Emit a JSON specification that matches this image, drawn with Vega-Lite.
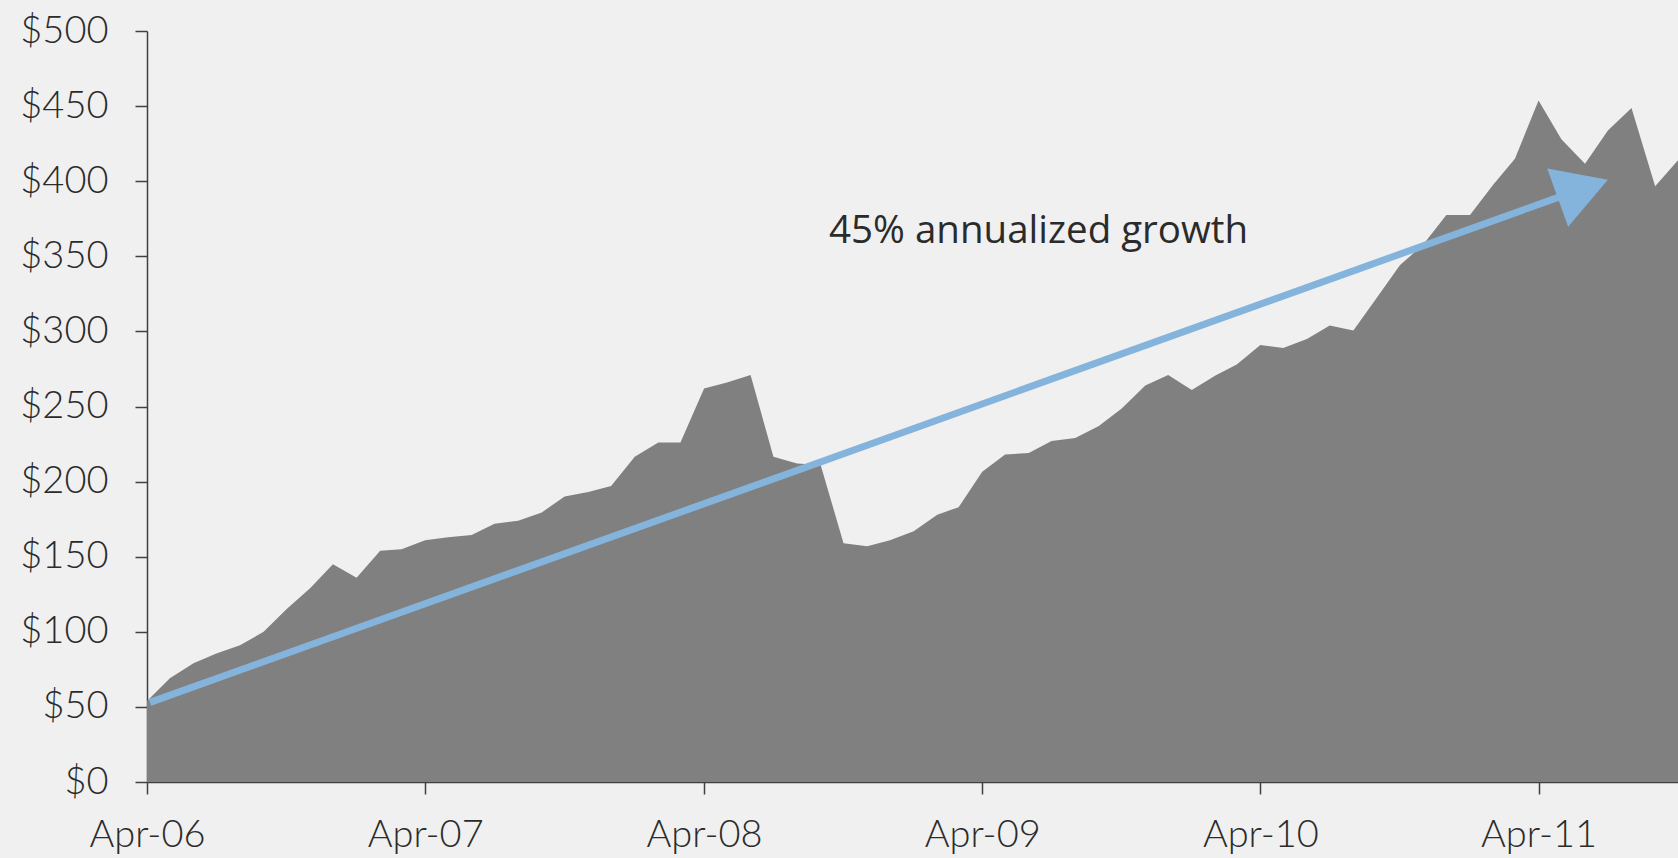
{
  "$schema": "https://vega.github.io/schema/vega-lite/v6.json",
  "width": 1531,
  "height": 751,
  "autosize": {"type": "none"},
  "padding": {"left": 147, "top": 31, "right": 0, "bottom": 76},
  "background": "#F0F0F0",
  "config": {
    "view": {"stroke": null},
    "axis": {
      "grid": false,
      "labelFont": "Lato",
      "labelFontSize": 38,
      "labelFontWeight": 300,
      "labelColor": "#2b2b2b",
      "domainColor": "#404040",
      "tickColor": "#404040",
      "domainWidth": 1.5,
      "tickWidth": 1.5,
      "title": null
    }
  },
  "datasets": {
    "series": [
      {"date": "2006-04-01", "value": 54},
      {"date": "2006-05-01", "value": 69},
      {"date": "2006-06-01", "value": 79},
      {"date": "2006-07-01", "value": 85.5},
      {"date": "2006-08-01", "value": 91},
      {"date": "2006-09-01", "value": 100},
      {"date": "2006-10-01", "value": 115},
      {"date": "2006-11-01", "value": 129},
      {"date": "2006-12-01", "value": 145},
      {"date": "2007-01-01", "value": 136},
      {"date": "2007-02-01", "value": 154},
      {"date": "2007-03-01", "value": 155},
      {"date": "2007-04-01", "value": 161},
      {"date": "2007-05-01", "value": 163},
      {"date": "2007-06-01", "value": 164.5},
      {"date": "2007-07-01", "value": 172},
      {"date": "2007-08-01", "value": 174},
      {"date": "2007-09-01", "value": 179.5},
      {"date": "2007-10-01", "value": 190},
      {"date": "2007-11-01", "value": 193},
      {"date": "2007-12-01", "value": 197},
      {"date": "2008-01-01", "value": 216.5},
      {"date": "2008-02-01", "value": 226},
      {"date": "2008-03-01", "value": 226},
      {"date": "2008-04-01", "value": 262},
      {"date": "2008-05-01", "value": 266},
      {"date": "2008-06-01", "value": 271},
      {"date": "2008-07-01", "value": 216.5},
      {"date": "2008-08-01", "value": 212},
      {"date": "2008-09-01", "value": 211},
      {"date": "2008-10-01", "value": 159},
      {"date": "2008-11-01", "value": 157},
      {"date": "2008-12-01", "value": 161},
      {"date": "2009-01-01", "value": 167},
      {"date": "2009-02-01", "value": 178},
      {"date": "2009-03-01", "value": 183},
      {"date": "2009-04-01", "value": 206.5},
      {"date": "2009-05-01", "value": 218},
      {"date": "2009-06-01", "value": 219},
      {"date": "2009-07-01", "value": 227},
      {"date": "2009-08-01", "value": 229},
      {"date": "2009-09-01", "value": 237},
      {"date": "2009-10-01", "value": 248.6},
      {"date": "2009-11-01", "value": 264},
      {"date": "2009-12-01", "value": 271},
      {"date": "2010-01-01", "value": 261},
      {"date": "2010-02-01", "value": 270.7},
      {"date": "2010-03-01", "value": 278},
      {"date": "2010-04-01", "value": 291},
      {"date": "2010-05-01", "value": 289},
      {"date": "2010-06-01", "value": 295},
      {"date": "2010-07-01", "value": 304},
      {"date": "2010-08-01", "value": 300.6},
      {"date": "2010-09-01", "value": 322.6},
      {"date": "2010-10-01", "value": 344},
      {"date": "2010-11-01", "value": 358},
      {"date": "2010-12-01", "value": 377.5},
      {"date": "2011-01-01", "value": 377.5},
      {"date": "2011-02-01", "value": 398},
      {"date": "2011-03-01", "value": 415},
      {"date": "2011-04-01", "value": 453.7},
      {"date": "2011-05-01", "value": 428},
      {"date": "2011-06-01", "value": 411.7},
      {"date": "2011-07-01", "value": 433.8},
      {"date": "2011-08-01", "value": 448.7},
      {"date": "2011-09-01", "value": 396.7},
      {"date": "2011-10-01", "value": 414}
    ],
    "arrow": [
      {"date": "2006-04-05", "value": 53},
      {"date": "2011-05-06", "value": 390.9}
    ],
    "head": [
      {"date": "2011-07-01", "value": 401}
    ],
    "label": [
      {"date": "2009-06-14", "value": 367, "text": "45% annualized growth"}
    ]
  },
  "encoding": {
    "x": {
      "field": "date",
      "type": "temporal",
      "scale": {
        "type": "utc",
        "domain": [
          {"year": 2006, "month": 4, "date": 1, "utc": true},
          {"year": 2011, "month": 10, "date": 1, "utc": true}
        ]
      },
      "axis": {
        "values": [
          {"year": 2006, "month": 4, "date": 1, "utc": true},
          {"year": 2007, "month": 4, "date": 1, "utc": true},
          {"year": 2008, "month": 4, "date": 1, "utc": true},
          {"year": 2009, "month": 4, "date": 1, "utc": true},
          {"year": 2010, "month": 4, "date": 1, "utc": true},
          {"year": 2011, "month": 4, "date": 1, "utc": true}
        ],
        "format": "%b-%y",
        "tickSize": 12,
        "labelPadding": 22,
        "labelFlush": false,
        "labelOverlap": false
      }
    },
    "y": {
      "field": "value",
      "type": "quantitative",
      "scale": {"domain": [0, 500], "nice": false},
      "axis": {
        "values": [0, 50, 100, 150, 200, 250, 300, 350, 400, 450, 500],
        "format": "$.0f",
        "tickSize": 12,
        "labelPadding": 27,
        "labelFlush": false,
        "labelOverlap": false
      }
    }
  },
  "layer": [
    {
      "data": {"name": "series"},
      "mark": {"type": "area", "color": "#808080", "opacity": 1}
    },
    {
      "data": {"name": "arrow"},
      "mark": {"type": "line", "color": "#84B4DC", "strokeWidth": 7, "strokeCap": "butt"}
    },
    {
      "data": {"name": "head"},
      "mark": {
        "type": "point",
        "shape": "M0,0 L-1.72,-1 L-1.72,1 Z",
        "size": 3844,
        "angle": 340.3,
        "filled": true,
        "color": "#84B4DC",
        "opacity": 1,
        "strokeWidth": 0
      }
    },
    {
      "data": {"name": "label"},
      "mark": {
        "type": "text",
        "font": "Open Sans",
        "fontSize": 38.5,
        "color": "#2b2b2b",
        "align": "center",
        "baseline": "middle"
      },
      "encoding": {"text": {"field": "text"}}
    }
  ]
}
